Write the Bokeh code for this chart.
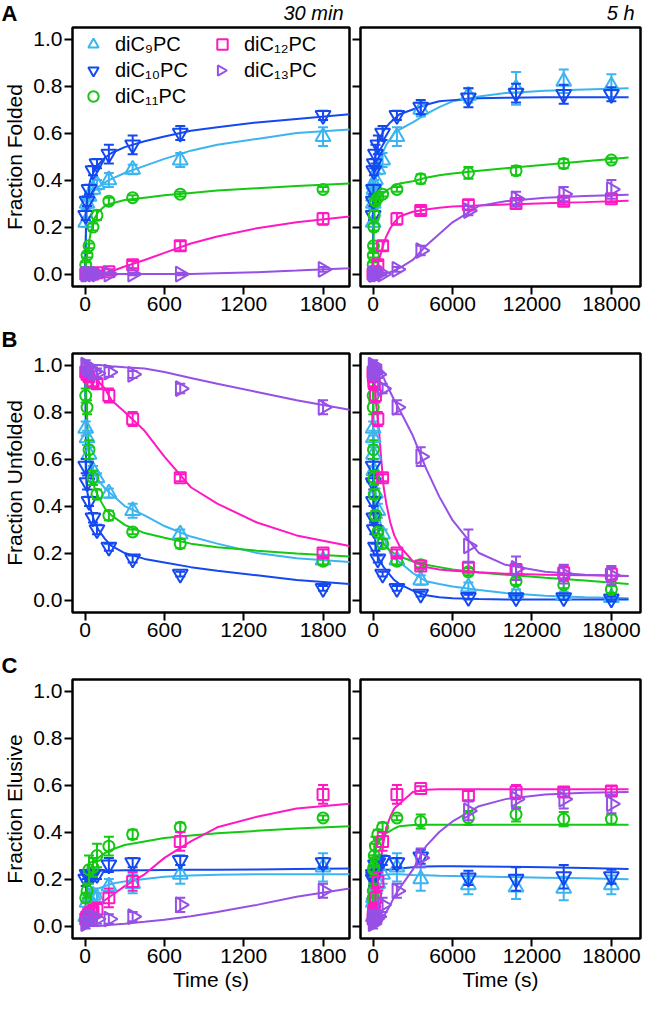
import numpy as np
from bokeh.plotting import figure
from bokeh.layouts import column, row
from bokeh.models import (Range1d, FixedTicker, PrintfTickFormatter, Legend,
                          LegendItem, CustomJSTickFormatter)
from bokeh.core.properties import value
from bokeh.embed import file_html
from bokeh.resources import INLINE

# ---------------- data ----------------
times = [5, 15, 30, 60, 90, 180, 360, 720, 1800, 3600, 7200, 10800, 14400, 18000]
fit_times = [0, 10, 20, 40, 70, 100, 150, 200, 300, 450, 600, 800, 1000, 1300,
             1600, 2000, 3000, 4000, 5000, 6000, 8000, 10000, 13000, 16000, 19300]
lipids = ["diC\u2089PC", "diC\u2081\u2080PC", "diC\u2081\u2081PC", "diC\u2081\u2082PC", "diC\u2081\u2083PC"]
panel_letters = ["A", "B", "C"]
window_labels = ["30 min", "5 h"]

# Fraction Folded (A)
fold_C9 = [0.22, 0.30, 0.33, 0.36, 0.38, 0.40, 0.445, 0.485, 0.585, 0.70, 0.76, 0.79, 0.82, 0.80]
fold_C9_err = [0.02, 0.02, 0.02, 0.02, 0.02, 0.03, 0.02, 0.03, 0.04, 0.03, 0.03, 0.07, 0.05, 0.05]
fold_C10 = [0.25, 0.31, 0.36, 0.44, 0.47, 0.51, 0.55, 0.60, 0.675, 0.71, 0.75, 0.77, 0.765, 0.765]
fold_C10_err = [0.02, 0.02, 0.02, 0.02, 0.02, 0.04, 0.04, 0.03, 0.02, 0.03, 0.04, 0.04, 0.04, 0.03]
fold_C11 = [0.04, 0.08, 0.12, 0.20, 0.25, 0.31, 0.325, 0.34, 0.36, 0.405, 0.43, 0.44, 0.47, 0.485]
fold_C11_err = [0.01, 0.01, 0.01, 0.015, 0.02, 0.015, 0.01, 0.01, 0.01, 0.02, 0.025, 0.02, 0.02, 0.01]
fold_C12 = [0.0, 0.0, 0.0, 0.0, 0.005, 0.01, 0.04, 0.12, 0.235, 0.27, 0.295, 0.30, 0.31, 0.32]
fold_C12_err = [0.01, 0.01, 0.01, 0.01, 0.01, 0.01, 0.015, 0.02, 0.025, 0.015, 0.02, 0.02, 0.015, 0.015]
fold_C13 = [0.0, 0.0, 0.0, 0.0, 0.0, 0.0, 0.0, 0.0, 0.02, 0.10, 0.27, 0.32, 0.34, 0.36]
fold_C13_err = [0.005, 0.005, 0.005, 0.005, 0.005, 0.005, 0.005, 0.005, 0.01, 0.02, 0.02, 0.03, 0.03, 0.04]

fold_fit_C9 = [0.0, 0.25, 0.30, 0.33, 0.355, 0.37, 0.39, 0.405, 0.43, 0.46, 0.49, 0.525, 0.55, 0.575,
               0.60, 0.615, 0.645, 0.68, 0.71, 0.735, 0.755, 0.77, 0.78, 0.785, 0.79]
fold_fit_C10 = [0.0, 0.30, 0.35, 0.40, 0.44, 0.465, 0.495, 0.515, 0.54, 0.565, 0.585, 0.61, 0.625, 0.645,
                0.66, 0.68, 0.70, 0.72, 0.735, 0.74, 0.748, 0.75, 0.752, 0.752, 0.752]
fold_fit_C11 = [0.0, 0.06, 0.10, 0.17, 0.235, 0.265, 0.29, 0.30, 0.315, 0.325, 0.335, 0.345, 0.355, 0.365,
                0.375, 0.385, 0.395, 0.41, 0.42, 0.428, 0.44, 0.45, 0.465, 0.48, 0.496]
fold_fit_C12 = [0.0, 0.0, 0.0, 0.0, 0.0, 0.0, 0.005, 0.012, 0.032, 0.06, 0.09, 0.13, 0.16, 0.195,
                0.22, 0.245, 0.265, 0.275, 0.282, 0.287, 0.292, 0.296, 0.301, 0.306, 0.312]
fold_fit_C13 = [0.0, 0.0, 0.0, 0.0, 0.0, 0.0, 0.0, 0.0, 0.0, 0.0, 0.0, 0.0, 0.003, 0.008,
                0.015, 0.025, 0.06, 0.12, 0.17, 0.22, 0.29, 0.31, 0.325, 0.332, 0.337]

# Fraction Unfolded (B)
unf_C9 = [0.73, 0.69, 0.62, 0.55, 0.52, 0.455, 0.38, 0.28, 0.17, 0.085, 0.055, 0.03, 0.02, 0.01]
unf_C9_err = [0.03, 0.03, 0.03, 0.02, 0.02, 0.02, 0.03, 0.02, 0.02, 0.02, 0.02, 0.015, 0.015, 0.015]
unf_C10 = [0.57, 0.50, 0.42, 0.35, 0.30, 0.225, 0.175, 0.11, 0.05, 0.025, 0.012, 0.01, 0.01, 0.005]
unf_C10_err = [0.03, 0.03, 0.02, 0.02, 0.02, 0.015, 0.015, 0.01, 0.01, 0.01, 0.01, 0.01, 0.01, 0.01]
unf_C11 = [0.87, 0.82, 0.64, 0.52, 0.45, 0.36, 0.29, 0.24, 0.165, 0.15, 0.12, 0.08, 0.065, 0.045]
unf_C11_err = [0.03, 0.03, 0.04, 0.03, 0.02, 0.02, 0.01, 0.02, 0.015, 0.01, 0.015, 0.015, 0.015, 0.015]
unf_C12 = [0.97, 0.96, 0.95, 0.93, 0.92, 0.87, 0.77, 0.52, 0.20, 0.145, 0.14, 0.13, 0.115, 0.11]
unf_C12_err = [0.02, 0.02, 0.02, 0.02, 0.02, 0.03, 0.03, 0.015, 0.015, 0.01, 0.02, 0.02, 0.03, 0.03]
unf_C13 = [1.0, 0.99, 0.98, 0.97, 0.965, 0.97, 0.96, 0.90, 0.82, 0.61, 0.23, 0.135, 0.11, 0.105]
unf_C13_err = [0.02, 0.02, 0.02, 0.02, 0.02, 0.02, 0.015, 0.02, 0.03, 0.04, 0.07, 0.05, 0.04, 0.04]

unf_fit_C9 = [1.0, 0.70, 0.65, 0.59, 0.54, 0.51, 0.475, 0.45, 0.40, 0.36, 0.315, 0.27, 0.24, 0.20,
              0.178, 0.162, 0.115, 0.08, 0.068, 0.058, 0.043, 0.03, 0.018, 0.012, 0.008]
unf_fit_C10 = [1.0, 0.50, 0.45, 0.39, 0.335, 0.30, 0.26, 0.23, 0.20, 0.175, 0.16, 0.14, 0.125, 0.105,
               0.085, 0.068, 0.04, 0.02, 0.012, 0.008, 0.004, 0.002, 0.002, 0.002, 0.002]
unf_fit_C11 = [1.0, 0.85, 0.72, 0.58, 0.48, 0.44, 0.39, 0.36, 0.32, 0.285, 0.265, 0.24, 0.225, 0.21,
               0.198, 0.185, 0.165, 0.15, 0.14, 0.13, 0.117, 0.108, 0.095, 0.083, 0.068]
unf_fit_C12 = [1.0, 0.99, 0.98, 0.965, 0.95, 0.93, 0.90, 0.85, 0.80, 0.72, 0.61, 0.48, 0.41, 0.33,
               0.275, 0.23, 0.165, 0.14, 0.13, 0.125, 0.118, 0.112, 0.108, 0.105, 0.102]
unf_fit_C13 = [1.0, 1.0, 1.0, 1.0, 1.0, 1.0, 0.998, 0.995, 0.99, 0.985, 0.97, 0.945, 0.92, 0.885,
               0.85, 0.81, 0.70, 0.56, 0.44, 0.34, 0.20, 0.15, 0.12, 0.108, 0.102]

# Fraction Elusive (C)
elu_C9 = [0.04, 0.10, 0.12, 0.13, 0.12, 0.17, 0.18, 0.22, 0.25, 0.20, 0.175, 0.165, 0.16, 0.175]
elu_C9_err = [0.02, 0.02, 0.02, 0.03, 0.02, 0.03, 0.04, 0.04, 0.06, 0.05, 0.04, 0.05, 0.05, 0.04]
elu_C10 = [0.20, 0.22, 0.21, 0.22, 0.22, 0.26, 0.27, 0.28, 0.27, 0.295, 0.205, 0.20, 0.21, 0.21]
elu_C10_err = [0.03, 0.02, 0.02, 0.02, 0.02, 0.03, 0.02, 0.02, 0.02, 0.03, 0.03, 0.05, 0.05, 0.03]
elu_C11 = [0.12, 0.15, 0.24, 0.25, 0.30, 0.34, 0.39, 0.42, 0.46, 0.445, 0.46, 0.475, 0.455, 0.455]
elu_C11_err = [0.02, 0.03, 0.06, 0.04, 0.05, 0.04, 0.02, 0.02, 0.01, 0.03, 0.03, 0.03, 0.03, 0.02]
elu_C12 = [0.03, 0.04, 0.05, 0.06, 0.07, 0.12, 0.19, 0.36, 0.56, 0.585, 0.555, 0.57, 0.57, 0.575]
elu_C12_err = [0.03, 0.03, 0.03, 0.03, 0.03, 0.04, 0.04, 0.04, 0.04, 0.01, 0.02, 0.03, 0.02, 0.02]
elu_C13 = [0.01, 0.02, 0.04, 0.04, 0.03, 0.03, 0.04, 0.09, 0.15, 0.29, 0.49, 0.54, 0.54, 0.52]
elu_C13_err = [0.02, 0.02, 0.02, 0.02, 0.02, 0.02, 0.02, 0.03, 0.03, 0.04, 0.04, 0.04, 0.04, 0.04]

elu_fit_C9 = [0.0, 0.12, 0.13, 0.14, 0.15, 0.16, 0.17, 0.18, 0.19, 0.20, 0.21, 0.215, 0.218, 0.22,
              0.22, 0.22, 0.217, 0.216, 0.214, 0.213, 0.211, 0.209, 0.206, 0.203, 0.199]
elu_fit_C10 = [0.0, 0.20, 0.225, 0.232, 0.234, 0.235, 0.236, 0.236, 0.237, 0.237, 0.238, 0.239, 0.24, 0.241,
               0.243, 0.245, 0.25, 0.253, 0.254, 0.254, 0.253, 0.252, 0.25, 0.247, 0.243]
elu_fit_C11 = [0.0, 0.13, 0.19, 0.245, 0.275, 0.29, 0.31, 0.325, 0.345, 0.36, 0.375, 0.385, 0.395, 0.405,
               0.415, 0.425, 0.43, 0.431, 0.431, 0.431, 0.431, 0.431, 0.431, 0.431, 0.431]
elu_fit_C12 = [0.0, 0.03, 0.045, 0.06, 0.075, 0.09, 0.11, 0.13, 0.17, 0.22, 0.29, 0.36, 0.42, 0.465,
               0.50, 0.52, 0.57, 0.58, 0.582, 0.582, 0.582, 0.582, 0.582, 0.582, 0.582]
elu_fit_C13 = [0.0, 0.0, 0.0, 0.0, 0.0, 0.0, 0.002, 0.005, 0.01, 0.018, 0.027, 0.042, 0.06, 0.09,
               0.125, 0.16, 0.24, 0.34, 0.40, 0.445, 0.51, 0.54, 0.56, 0.567, 0.57]

left_ticks = [0, 600, 1200, 1800]
right_ticks = [0, 6000, 12000, 18000]
y_ticks = [0.0, 0.2, 0.4, 0.6, 0.8, 1.0]

# ---------------- styling ----------------
FONT = "Liberation Sans"
colors = ["#3CB4F0", "#1448F0", "#14C814", "#FF19C3", "#9650E6"]
markers = ["triangle", "inverted_triangle", "circle", "square", "triangle"]
angles = [0.0, 0.0, 0.0, 0.0, -np.pi / 2]
msizes = [15, 15, 11, 11, 15]

panels = [
    ("Fraction Folded",
     [fold_C9, fold_C10, fold_C11, fold_C12, fold_C13],
     [fold_C9_err, fold_C10_err, fold_C11_err, fold_C12_err, fold_C13_err],
     [fold_fit_C9, fold_fit_C10, fold_fit_C11, fold_fit_C12, fold_fit_C13]),
    ("Fraction Unfolded",
     [unf_C9, unf_C10, unf_C11, unf_C12, unf_C13],
     [unf_C9_err, unf_C10_err, unf_C11_err, unf_C12_err, unf_C13_err],
     [unf_fit_C9, unf_fit_C10, unf_fit_C11, unf_fit_C12, unf_fit_C13]),
    ("Fraction Elusive",
     [elu_C9, elu_C10, elu_C11, elu_C12, elu_C13],
     [elu_C9_err, elu_C10_err, elu_C11_err, elu_C12_err, elu_C13_err],
     [elu_fit_C9, elu_fit_C10, elu_fit_C11, elu_fit_C12, elu_fit_C13]),
]

FW = 280
FH = 259
HDR = 25        # height of the text strip above each row
TOP = 2
BL, BR_L, BL_R, BR_R = 69, 2, 9, 5
WL = BL + FW + BR_L
WR = BL_R + FW + BR_R
BOT = 40
BOT_LAST = 64
YR = (-0.053, 1.049)
XR_L = (-95, 2000)
XR_R = (-950, 20200)


def make_fig(left, last):
    xr = XR_L if left else XR_R
    bot = BOT_LAST if last else BOT
    p = figure(width=WL if left else WR, height=TOP + FH + bot, output_backend="svg",
               toolbar_location=None, x_range=Range1d(*xr), y_range=Range1d(*YR),
               min_border_left=BL if left else BL_R, min_border_right=BR_L if left else BR_R,
               min_border_top=TOP, min_border_bottom=bot)
    p.grid.visible = False
    p.outline_line_color = "black"
    p.outline_line_width = 2.5
    p.outline_line_alpha = 1.0
    p.background_fill_color = "white"
    p.border_fill_color = "white"
    for ax in (p.xaxis[0], p.yaxis[0]):
        ax.axis_line_color = None
        ax.major_tick_out = 8
        ax.major_tick_in = 0
        ax.minor_tick_out = 0
        ax.minor_tick_in = 0
        ax.major_tick_line_width = 2
        ax.major_tick_line_color = "black"
        ax.major_label_text_font = FONT
        ax.major_label_text_font_size = "21px"
        ax.major_label_text_color = "black"
        ax.major_label_standoff = 2
        ax.axis_label_text_font = FONT
        ax.axis_label_text_font_size = "21px"
        ax.axis_label_text_font_style = "normal"
        ax.axis_label_text_color = "black"
    p.xaxis.ticker = FixedTicker(ticks=left_ticks if left else right_ticks)
    p.yaxis.ticker = FixedTicker(ticks=y_ticks)
    if left:
        p.yaxis.formatter = PrintfTickFormatter(format="%.1f")
    else:
        p.yaxis.formatter = CustomJSTickFormatter(code="return ''")
        p.yaxis.major_label_standoff = 0
    if last:
        p.xaxis.axis_label = "Time (s)"
        p.xaxis.axis_label_standoff = 2
    return p


def make_header(k):
    """Thin strip above a row of panels holding the panel letter (and window labels)."""
    W = WL + WR
    hp = figure(width=W, height=HDR, output_backend="svg", toolbar_location=None,
                x_range=Range1d(0, W), y_range=Range1d(0, HDR),
                x_axis_type=None, y_axis_type=None,
                min_border_left=0, min_border_right=0, min_border_top=0, min_border_bottom=0)
    hp.grid.visible = False
    hp.outline_line_color = None
    hp.background_fill_color = "white"
    hp.border_fill_color = "white"
    hp.text(x=[1], y=[HDR / 2], text=[panel_letters[k]], text_font=value(FONT),
            text_font_size=value("22px"), text_font_style="bold", text_color="black",
            text_align="left", text_baseline="middle")
    if k == 0:
        hp.text(x=[BL + FW - 6, WL + BL_R + FW - 6], y=[HDR / 2, HDR / 2], text=window_labels,
                text_font=value(FONT), text_font_size=value("20px"), text_font_style="italic",
                text_color="black", text_align="right", text_baseline="middle")
    return hp


def draw(p, vals, errs, fits):
    rends = []
    for i in range(5):
        p.line(fit_times, fits[i], line_color=colors[i], line_width=2)
    for i in range(5):
        v = np.array(vals[i])
        e = np.array(errs[i])
        t = np.array(times)
        p.segment(t, v - e, t, v + e, line_color=colors[i], line_width=2)
        p.scatter(t, v + e, marker="dash", size=10, line_color=colors[i], line_width=2)
        p.scatter(t, v - e, marker="dash", size=10, line_color=colors[i], line_width=2)
        r = p.scatter(t, v, marker=markers[i], size=msizes[i], angle=angles[i],
                      fill_color=None, line_color=colors[i], line_width=2)
        rends.append(r)
    return rends


children = []
for k, (ylabel, vals, errs, fits) in enumerate(panels):
    last = (k == 2)
    pl = make_fig(True, last)
    pr = make_fig(False, last)
    pl.yaxis.axis_label = ylabel
    pl.yaxis.axis_label_standoff = 4
    rl = draw(pl, vals, errs, fits)
    draw(pr, vals, errs, fits)

    if k == 0:
        items = [LegendItem(label=lipids[i], renderers=[rl[i]]) for i in range(4)]
        # placeholder renderer for the rotated-triangle legend entry (marker drawn below)
        ph = pl.line([], [], line_alpha=0)
        items.append(LegendItem(label=lipids[4], renderers=[ph]))
        common = dict(label_text_font=FONT, label_text_font_size="20px", label_text_color="black",
                      glyph_width=34, glyph_height=26, spacing=0, padding=0, margin=4,
                      border_line_alpha=0, background_fill_alpha=0, label_standoff=5)
        leg1 = Legend(items=items[:3], location="top_left", **common)
        leg2 = Legend(items=items[3:], location=(133, FH - 4 - 52), **common)
        pl.add_layout(leg1)
        pl.add_layout(leg2)
        sx = (XR_L[1] - XR_L[0]) / FW
        sy = (YR[1] - YR[0]) / FH
        pl.scatter([XR_L[0] + (133 + 17) * sx], [YR[1] - (4 + 26 + 13) * sy],
                   marker="triangle", size=10.4, angle=-np.pi / 2,
                   fill_color=None, line_color=colors[4], line_width=2)
    children.append(make_header(k))
    children.append(row(pl, pr))

layout = column(*children)
open("out.html", "w").write(file_html(layout, INLINE))
